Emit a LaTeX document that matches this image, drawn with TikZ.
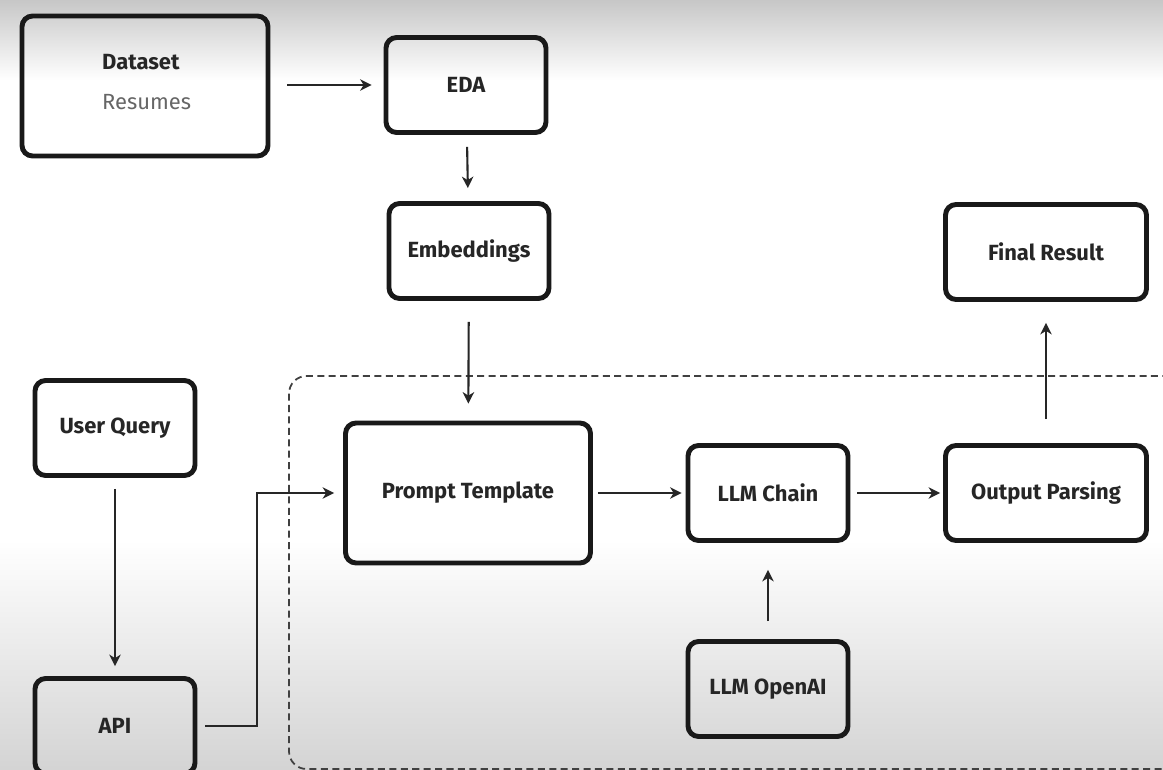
\documentclass[tikz,border=0pt]{standalone}
\usepackage{fontspec}
\setmainfont{Fira Sans}
\usetikzlibrary{arrows.meta}

\begin{document}
\begin{tikzpicture}[x=0.02cm, y=-0.02cm, >={Stealth[length=6.5pt, width=6.5pt, inset=2pt]},
		box/.style={draw=black!90, line width=2.8pt, rounded corners=6pt, font=\bfseries\fontsize{12.5}{15}\selectfont, text=black!85},
		small/.style={box, minimum width=3.2cm, minimum height=1.9cm},
		wide/.style={box, minimum width=4.02cm, minimum height=1.9cm},
		flow/.style={->, line width=1.2pt, draw=black!85},
		frame/.style={draw=black!75, line width=1pt, dash pattern=on 4pt off 2.5pt, rounded corners=10pt}]
		\useasboundingbox (0,0) rectangle (1163,770);
		\clip (0,0) rectangle (1163,770);
		\fill[white] (0,0) rectangle (1163,770);
		\shade[top color=black!22, bottom color=white] (0,0) rectangle (1163,80);
		\shade[top color=white, bottom color=black!17] (0,540) rectangle (1163,770);
		\draw[frame] (289,376) rectangle (1230,769);
		\node[box, minimum width=4.92cm, minimum height=2.8cm] (dat) at (145,86) {};
		\node[font=\bfseries\fontsize{12.5}{15}\selectfont, text=black!85, align=left, anchor=west] (datlbl) at (96,82) {Dataset\\[8pt]{\mdseries\color{black!60}Resumes}};
		\foreach \n/\x/\y/\t in {eda/466/85/EDA, emb/469/251/Embeddings, uq/115/428/User Query, api/115/726/API, chain/768/493/LLM Chain, oai/768/689/LLM OpenAI} {
			\node[small] (\n) at (\x,\y) {\t};
		}
		\node[wide] (fin) at (1046,252) {Final Result};
		\node[wide] (out) at (1046,493) {Output Parsing};
		\node[box, minimum width=4.9cm, minimum height=2.8cm] (pt) at (468,493) {Prompt Template};
		\coordinate (bend) at (257,600);
		\draw[flow, shorten <=0.34cm, shorten >=0.24cm] (dat.east |- eda) -- (eda.west);
		\draw[flow, shorten <=0.24cm, shorten >=0.26cm] (eda) -- (emb);
		\draw[flow, shorten <=0.42cm, shorten >=0.34cm] (emb) -- (pt);
		\draw[flow, shorten <=0.22cm, shorten >=0.2cm] (uq) -- (api);
		\draw[flow, shorten <=0.16cm, shorten >=0.18cm] (api.east) -| (bend) |- (pt.west);
		\draw[flow, shorten <=0.1cm, shorten >=0.08cm] (pt) -- (chain);
		\draw[flow, shorten <=0.14cm, shorten >=0.06cm] (chain) -- (out);
		\draw[flow, shorten <=0.36cm, shorten >=0.54cm] (oai) -- (chain);
		\draw[flow, shorten <=0.48cm, shorten >=0.42cm] (out) -- (fin);
	\end{tikzpicture}
\end{document}
